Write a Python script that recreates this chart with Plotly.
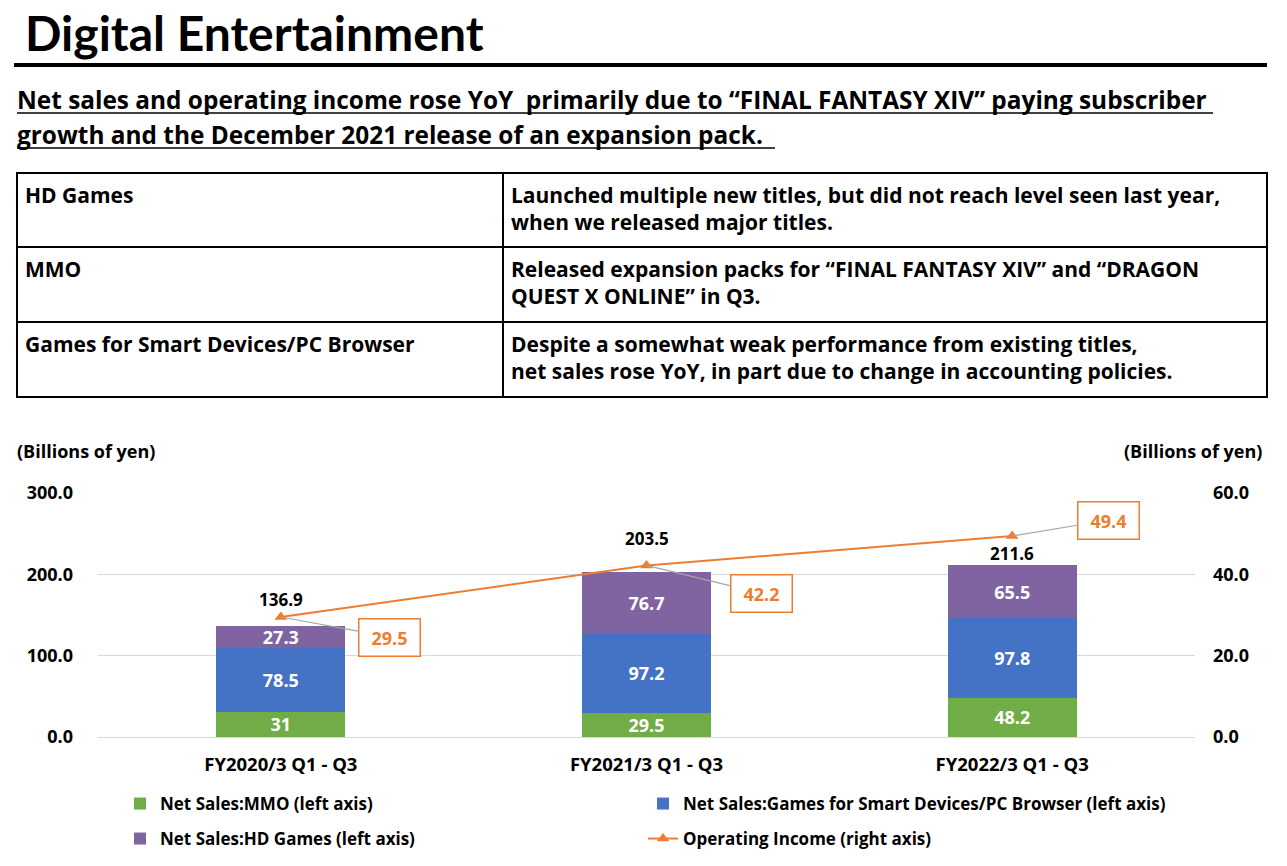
import plotly.graph_objects as go

W, H = 1287, 866


def px(x):
    return x / W


def py(y):
    return 1 - y / H


# ---------------- data ----------------
categories = ["FY2020/3 Q1 - Q3", "FY2021/3 Q1 - Q3", "FY2022/3 Q1 - Q3"]
mmo = [31, 29.5, 48.2]
smart = [78.5, 97.2, 97.8]
hd = [27.3, 76.7, 65.5]
totals = [136.9, 203.5, 211.6]
op_income = [29.5, 42.2, 49.4]
left_ticks = [0, 100, 200, 300]
right_ticks = [0, 20, 40, 60]

series_names = [
    "Net Sales:MMO (left axis)",
    "Net Sales:Games for Smart Devices/PC Browser (left axis)",
    "Net Sales:HD Games (left axis)",
    "Operating Income (right axis)",
]

table_col1 = ["HD Games", "MMO", "Games for Smart Devices/PC Browser"]
table_col2 = [
    "Launched multiple new titles, but did not reach level seen last year,<br>when we released major titles.",
    "Released expansion packs for \u201cFINAL FANTASY XIV\u201d and \u201cDRAGON<br>QUEST X ONLINE\u201d in Q3.",
    "Despite a somewhat weak performance from existing titles,<br>net sales rose YoY, in part due to change in accounting policies.",
]

title_text = "Digital Entertainment"
subtitle_lines = [
    "Net sales and operating income rose YoY  primarily due to \u201cFINAL FANTASY XIV\u201d paying subscriber",
    "growth and the December 2021 release of an expansion pack.",
]
unit_text = "(Billions of yen)"

# ---------------- style ----------------
TFONT = "Lato"
FONT = "Open Sans"
GREEN, BLUE, PURPLE, ORANGE = "#70AD47", "#4472C4", "#8064A2", "#ED7D31"
GRID = "#D9D9D9"


def fmt(v):
    return f"{v:g}"


fig = go.Figure()

bar_specs = [(mmo, GREEN, series_names[0], "legend"),
             (smart, BLUE, series_names[1], "legend"),
             (hd, PURPLE, series_names[2], "legend2")]
for vals, col, name, lg in bar_specs:
    fig.add_trace(go.Bar(
        x=categories, y=vals, name=name, marker=dict(color=col, line=dict(width=0)),
        text=[fmt(v) for v in vals], textposition="inside", insidetextanchor="middle",
        constraintext="none", textangle=0,
        textfont=dict(family=FONT, size=18, color="white", weight="bold"),
        legend=lg, hoverinfo="skip", xaxis="x", yaxis="y",
    ))

fig.add_trace(go.Scatter(
    x=categories, y=op_income, name=series_names[3], mode="lines+markers",
    line=dict(color=ORANGE, width=2), marker=dict(symbol="triangle-up", size=11, color=ORANGE),
    yaxis="y2", legend="legend2", hoverinfo="skip",
))

# table
fig.add_trace(go.Table(
    domain=dict(x=[px(17), px(1267)], y=[py(399), py(173)]),
    columnwidth=[486, 764],
    header=dict(
        values=[f"<b>{table_col1[0]}</b>", f"<b>{table_col2[0]}</b>"],
        align="left", height=74, fill=dict(color="white"),
        line=dict(color="black", width=1.5),
        font=dict(family=FONT, size=21, color="black"),
    ),
    cells=dict(
        values=[[f"<b>{v}</b>" for v in table_col1[1:]], [f"<b>{v}</b>" for v in table_col2[1:]]],
        align="left", height=75, fill=dict(color="white"),
        line=dict(color="black", width=1.5),
        font=dict(family=FONT, size=21, color="black"),
    ),
))

x_dom = [px(98), px(1195)]
y_dom = [py(737), py(493)]

annotations = []
# title & subtitle
annotations.append(dict(text=title_text, x=px(23), y=py(33), xref="paper", yref="paper",
                        xanchor="left", yanchor="middle", showarrow=False,
                        font=dict(family=TFONT, size=48, color="black", weight="bold")))
for i, line in enumerate(subtitle_lines):
    annotations.append(dict(text=line, x=px(15), y=py(99 + 35 * i), xref="paper", yref="paper",
                            xanchor="left", yanchor="middle", showarrow=False,
                            font=dict(family=FONT, size=24.4, color="black", weight="bold")))
# unit labels
annotations.append(dict(text=unit_text, x=px(15), y=py(451), xref="paper", yref="paper",
                        xanchor="left", yanchor="middle", showarrow=False,
                        font=dict(family=FONT, size=18, color="black", weight="bold")))
annotations.append(dict(text=unit_text, x=px(1264), y=py(451), xref="paper", yref="paper",
                        xanchor="right", yanchor="middle", showarrow=False,
                        font=dict(family=FONT, size=18, color="black", weight="bold")))
# totals
total_shift = [13, 19, -2]
for c, t, s in zip(categories, totals, total_shift):
    annotations.append(dict(text=fmt(t), x=c, y=t, xref="x", yref="y", yanchor="bottom",
                            yshift=s, showarrow=False,
                            font=dict(family=FONT, size=17, color="black", weight="bold")))
# operating income callouts
oi_offsets = [(109, 20), (115, 28), (96, -16)]
for c, v, (ax, ay) in zip(categories, op_income, oi_offsets):
    annotations.append(dict(text=f"{v:.1f}", x=c, y=v, xref="x", yref="y2",
                            showarrow=True, arrowhead=0, arrowwidth=1.2, arrowcolor="#A5A5A5",
                            ax=ax, ay=ay, axref="pixel", ayref="pixel",
                            width=58, height=34, bordercolor=ORANGE, borderwidth=1.5,
                            bgcolor="white", standoff=0,
                            font=dict(family=FONT, size=18, color=ORANGE, weight="bold")))

shapes = [
    dict(type="line", xref="paper", yref="paper", x0=px(14), x1=px(1267), y0=py(65), y1=py(65),
         line=dict(color="black", width=4)),
    dict(type="line", xref="paper", yref="paper", x0=px(17), x1=px(1213), y0=py(113), y1=py(113),
         line=dict(color="black", width=1.5)),
    dict(type="line", xref="paper", yref="paper", x0=px(17), x1=px(775), y0=py(148), y1=py(148),
         line=dict(color="black", width=1.5)),
]

legend_common = dict(orientation="h", xanchor="left", yanchor="middle",
                     entrywidth=478, entrywidthmode="pixels", traceorder="normal",
                     font=dict(family=FONT, size=17, color="black", weight="bold"),
                     bgcolor="rgba(0,0,0,0)")

fig.update_layout(
    width=W, height=H, margin=dict(l=0, r=0, t=0, b=0, autoexpand=False),
    paper_bgcolor="white", plot_bgcolor="white",
    font=dict(family=FONT, color="black"),
    barmode="stack", bargap=0.647,
    xaxis=dict(domain=x_dom, showgrid=False, showline=False, zeroline=False,
               ticks="", ticklabelstandoff=14, automargin=False,
               tickfont=dict(family=FONT, size=18.5, color="black", weight="bold")),
    yaxis=dict(domain=y_dom, range=[0, 300], tickvals=left_ticks, tickformat=".1f",
               showgrid=True, gridcolor=GRID, gridwidth=1, zeroline=True, zerolinecolor=GRID,
               zerolinewidth=1, showline=False, ticks="", ticklabelstandoff=24, automargin=False,
               tickfont=dict(family=FONT, size=18, color="black", weight="bold")),
    yaxis2=dict(domain=y_dom, range=[0, 60], tickvals=right_ticks, tickformat=".1f",
                overlaying="y", side="right", showgrid=False, zeroline=False, showline=False,
                ticks="", ticklabelstandoff=17, automargin=False,
                tickfont=dict(family=FONT, size=18, color="black", weight="bold")),
    legend=dict(x=px(120), y=py(804), **legend_common),
    legend2=dict(x=px(120), y=py(839), **legend_common),
    annotations=annotations, shapes=shapes,
    showlegend=True,
)

fig.write_html("out.html")
